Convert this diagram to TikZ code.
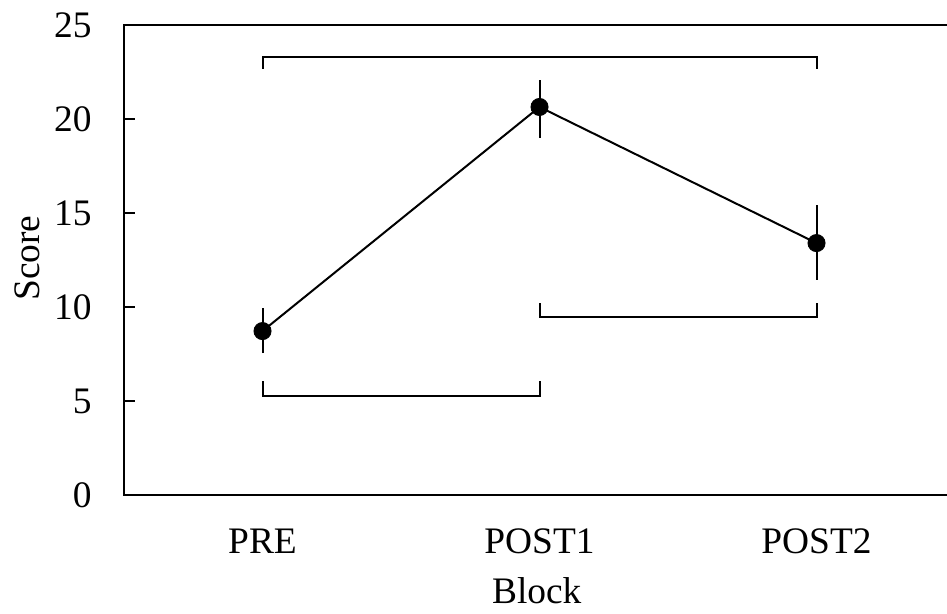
\documentclass[tikz,border=0pt]{standalone}
\usepackage{fontspec}
\setmainfont{Liberation Serif}
\begin{document}
\begin{tikzpicture}[x=138.5pt, y=9.4pt,
        every node/.style={font=\fontsize{18.7}{22}\selectfont},
        axisline/.style={line width=1.3pt},
        meanpt/.style={draw, fill=black, circle, inner sep=0pt, minimum size=8.6pt},
        errbar/.style={line width=1pt},
        bracket/.style={line width=1pt}]
        \useasboundingbox (-0.4477, -6.277) rectangle (2.9711, 26.33);

        \begin{scope}
            % Axes
            \draw[axisline] (2.9711, 0) -- (0, 0) -- (0, 25) -- (2.9711, 25);
            \foreach \v in {5, 10, 15, 20}
                \draw[axisline] (0, \v) -- ++(5.5pt, 0);
            \foreach \v in {0, 5, 10, 15, 20, 25}
                \node[anchor=east, inner sep=0pt] (tick\v) at ([xshift=-16pt]0, \v) {\v};

            % Axis labels
            \node[anchor=base, inner sep=0pt] (lblpre) at ([yshift=-29pt]0.5, 0) {PRE};
            \node[anchor=base, inner sep=0pt] (lblpost1) at ([yshift=-29pt]1.5, 0) {POST1};
            \node[anchor=base, inner sep=0pt] (lblpost2) at ([yshift=-29pt]2.5, 0) {POST2};
            \node[anchor=base, inner sep=0pt] (xlabel) at ([yshift=-54pt]1.49, 0) {Block};
            \node[anchor=base, rotate=90, inner sep=0pt] (ylabel) at ([xshift=-42.5pt]0, 12.6) {Score};
        \end{scope}

        \begin{scope}
            % Error bars
            \draw[errbar] (0.5, 7.55) -- (0.5, 9.95);
            \draw[errbar] (1.5, 18.99) -- (1.5, 22.07);
            \draw[errbar] (2.5, 11.44) -- (2.5, 15.43);

            % Means
            \node[meanpt] (pre) at (0.5, 8.72) {};
            \node[meanpt] (post1) at (1.5, 20.64) {};
            \node[meanpt] (post2) at (2.5, 13.40) {};

            % Connect means
            \draw[errbar] (pre.center) -- (post1.center) -- (post2.center);

            % Comparison brackets
            \draw[bracket] (0.5, 22.66) -- (0.5, 23.30) -- (2.5, 23.30) -- (2.5, 22.66);
            \draw[bracket] (0.5, 6.06) -- (0.5, 5.27) -- (1.5, 5.27) -- (1.5, 6.06);
            \draw[bracket] (1.5, 10.21) -- (1.5, 9.47) -- (2.5, 9.47) -- (2.5, 10.21);
        \end{scope}
\end{tikzpicture}
\end{document}
